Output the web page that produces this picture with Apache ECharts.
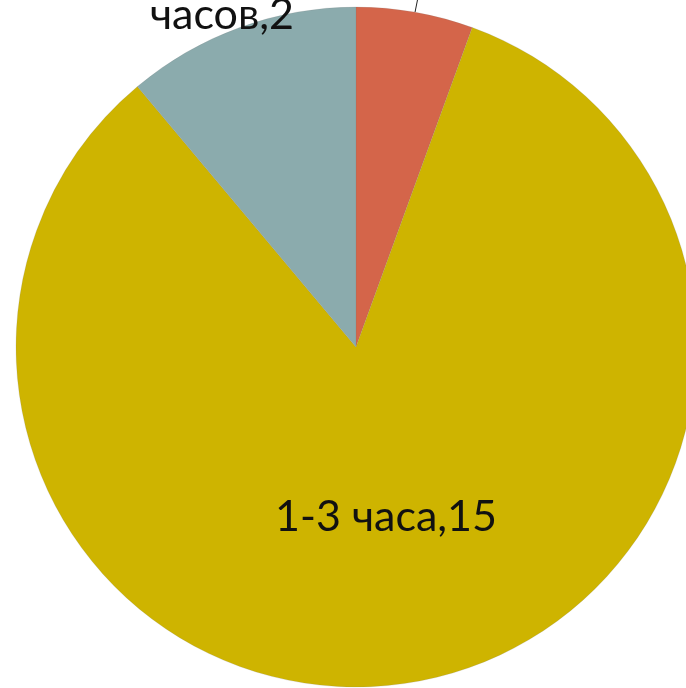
<!DOCTYPE html>
<html>
<head>
<meta charset="utf-8">
<script src="https://cdn.jsdelivr.net/npm/echarts@6/dist/echarts.min.js"></script>
<style>
html,body{margin:0;padding:0;background:#fff;}
#c{width:686px;height:688px;}
</style>
</head>
<body>
<div id="c"></div>
<script>
const categories = ['Менее 1 часа', '1-3 часа', 'Более 3\nчасов'];
const values = [1, 15, 2];
const colors = ['#D4654A', '#CEB400', '#8BABAD'];

const chart = echarts.init(document.getElementById('c'), null, {renderer: 'canvas'});
const data = categories.map((n, i) => ({
  name: n,
  value: values[i],
  itemStyle: {color: colors[i]},
  label: i === 1 ? {position: 'inside'} : {position: 'outside'},
  labelLine: {show: i === 0, lineStyle: {color: '#222', width: 1}}
}));

chart.setOption({
  animation: false,
  series: [{
    type: 'pie',
    center: [356, 347],
    radius: 340,
    startAngle: 90,
    clockwise: true,
    data: data,
    itemStyle: {borderColor: 'rgba(120,120,120,0.35)', borderWidth: 0.5},
    label: {
      formatter: '{b},{c}',
      fontFamily: 'Lato',
      fontSize: 43,
      color: '#111',
      lineHeight: 46
    },
    labelLine: {length: 10, length2: 10},
    labelLayout: function (p) {
      if (p.dataIndex === 2) {
        return {x: 222, y: 38, align: 'center', verticalAlign: 'bottom'};
      }
      if (p.dataIndex === 0) {
        return {x: 310, y: -50, align: 'center', verticalAlign: 'bottom'};
      }
      return {};
    }
  }]
});
</script>
</body>
</html>
